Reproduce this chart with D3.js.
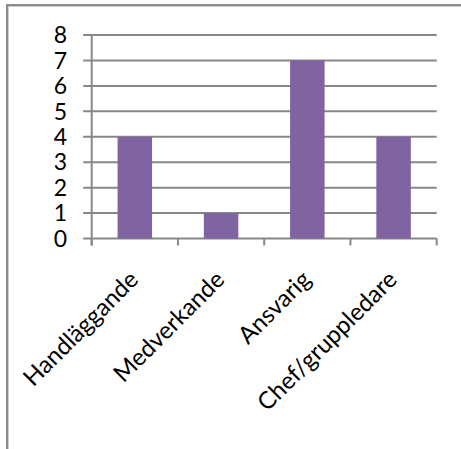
<!DOCTYPE html>
<html>
<head>
<meta charset="utf-8">
<script src="https://cdn.jsdelivr.net/npm/d3@7"></script>
<style>
  html, body { margin: 0; padding: 0; background: #ffffff; }
  svg { display: block; }
</style>
</head>
<body>
<svg id="chart" width="461" height="449"></svg>
<script>
// Roles and the number of people in each
const categories = ["Handläggande", "Medverkande", "Ansvarig", "Chef/gruppledare"];
const values = [4, 1, 7, 4];
const yTicks = [0, 1, 2, 3, 4, 5, 6, 7, 8];

const svg = d3.select("#chart");
const W = 461, H = 449;
const plot = { left: 91.7, right: 436.7, top: 35, bottom: 238.5 };
const gridColor = "#878787";
const barColor = "#8064A2";
const font = "Lato, 'Open Sans', sans-serif";

// Outer chart frame (runs past the right and bottom edges)
svg.append("rect")
  .attr("x", 7.2).attr("y", 5.2)
  .attr("width", W + 20).attr("height", H + 20)
  .attr("fill", "none")
  .attr("stroke", "#8c8c8c")
  .attr("stroke-width", 2.4);

const x = d3.scaleBand()
  .domain(categories)
  .range([plot.left, plot.right])
  .paddingInner(0.6)
  .paddingOuter(0.3);

const y = d3.scaleLinear()
  .domain([0, d3.max(yTicks)])
  .range([plot.bottom, plot.top]);

// Horizontal gridlines with their outside tick stubs
svg.append("g")
  .selectAll("line")
  .data(yTicks)
  .join("line")
  .attr("x1", plot.left - 8.5)
  .attr("x2", plot.right)
  .attr("y1", d => y(d))
  .attr("y2", d => y(d))
  .attr("stroke", gridColor)
  .attr("stroke-width", 2);

// Y axis line
svg.append("line")
  .attr("x1", plot.left).attr("x2", plot.left)
  .attr("y1", plot.top).attr("y2", plot.bottom + 7)
  .attr("stroke", gridColor)
  .attr("stroke-width", 2);

// Category boundary ticks below the x axis
const bounds = d3.range(categories.length + 1).map(i => plot.left + i * (plot.right - plot.left) / categories.length);
svg.append("g")
  .selectAll("line")
  .data(bounds)
  .join("line")
  .attr("x1", d => d).attr("x2", d => d)
  .attr("y1", plot.bottom)
  .attr("y2", plot.bottom + 7)
  .attr("stroke", gridColor)
  .attr("stroke-width", 2);

// Bars
svg.append("g")
  .selectAll("rect")
  .data(values)
  .join("rect")
  .attr("x", (d, i) => x(categories[i]))
  .attr("width", x.bandwidth())
  .attr("y", d => y(d))
  .attr("height", d => y(0) - y(d))
  .attr("fill", barColor);

// Y tick labels
svg.append("g")
  .selectAll("text")
  .data(yTicks)
  .join("text")
  .attr("x", 67)
  .attr("y", d => y(d))
  .attr("dy", "0.36em")
  .attr("text-anchor", "end")
  .attr("font-family", font)
  .attr("font-size", 23)
  .attr("fill", "#000")
  .text(d => d);

// Rotated category labels, ending just right of each category centre
svg.append("g")
  .selectAll("text")
  .data(categories)
  .join("text")
  .attr("transform", d => `translate(${x(d) + x.bandwidth() / 2 + 5},281) rotate(-45)`)
  .attr("text-anchor", "end")
  .attr("font-family", font)
  .attr("font-size", 24)
  .attr("fill", "#000")
  .text(d => d);
</script>
</body>
</html>
